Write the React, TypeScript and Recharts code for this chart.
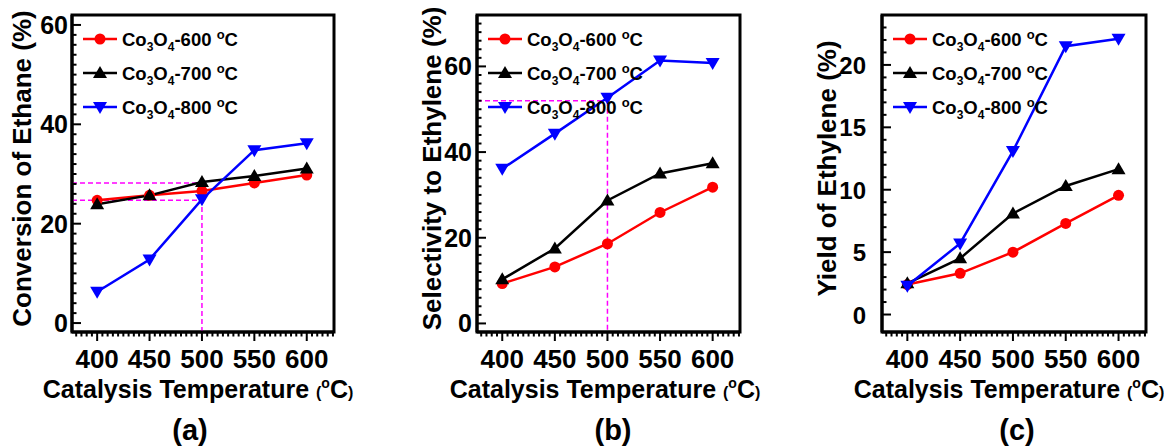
import { LineChart, Line, XAxis, YAxis, ReferenceLine, ReferenceArea, Legend, Label } from "recharts";

const FONT = "Arial, 'Liberation Sans', Helvetica, sans-serif";

// catalysis temperatures (x) and calcination temperatures of the samples
const temps = [400, 450, 500, 550, 600];
const samples = ["600", "700", "800"];
const colors = ["#ff0000", "#000000", "#0000ff"];
const shapes = ["circle", "up", "down"];

// (a) conversion of ethane, %
const conv600 = [24.7, 25.7, 26.6, 28.2, 29.8];
const conv700 = [23.9, 25.7, 28.4, 29.6, 31.1];
const conv800 = [6.3, 12.8, 24.9, 34.8, 36.2];

// (b) selectivity to ethylene, %
const sel600 = [9.3, 13.2, 18.6, 25.9, 31.8];
const sel700 = [10.3, 17.5, 28.7, 35.0, 37.4];
const sel800 = [36.1, 44.3, 52.7, 61.4, 60.8];

// (c) yield of ethylene, %
const yld600 = [2.4, 3.3, 5.0, 7.3, 9.55];
const yld700 = [2.5, 4.5, 8.1, 10.3, 11.65];
const yld800 = [2.3, 5.7, 13.1, 21.5, 22.1];

// magenta guide lines at 500 °C
const guideTemp = 500;
const guideA = [28.2, 24.7];
const guideB = [52.0];

const xMajor = [400, 450, 500, 550, 600];
const xDomain = [376, 626];

const range = (a: number, b: number, s: number) => {
  const out: number[] = [];
  for (let v = a; v <= b + 1e-9; v += s) out.push(Math.round(v * 100) / 100);
  return out;
};

const rows = (vals: number[][]) =>
  temps.map((t, i) => ({ t, s600: vals[0][i], s700: vals[1][i], s800: vals[2][i] }));

const panels = [
  {
    tag: "(a)", left: 0, width: 390, plotLeft: 72, plotRight: 334,
    yDomain: [-1.8, 62], yMajorStep: 20, yTicks: range(0, 60, 2),
    title: "Conversion of Ethane (%)", titleX: 22, xTitleX: 198, tagX: 190,
    tickGap: 4, tickFont: 25, data: rows([conv600, conv700, conv800]), guides: guideA,
  },
  {
    tag: "(b)", left: 390, width: 386, plotLeft: 87, plotRight: 350,
    yDomain: [-2, 72], yMajorStep: 20, yTicks: range(0, 70, 2),
    title: "Selectivity to Ethylene (%)", titleX: 42, xTitleX: 215, tagX: 223,
    tickGap: 5, tickFont: 25, data: rows([sel600, sel700, sel800]), guides: guideB,
  },
  {
    tag: "(c)", left: 776, width: 388, plotLeft: 106, plotRight: 370,
    yDomain: [-1.4, 24], yMajorStep: 5, yTicks: range(0, 23, 1),
    title: "Yield of Ethylene (%)", titleX: 51, xTitleX: 233, tagX: 241,
    tickGap: 16, tickFont: 24, data: rows([yld600, yld700, yld800]), guides: [] as number[],
  },
];

const H = 447;
const TOP = 15;
const BOTTOM = 332;
const YW = 40;
const XH = 30;

function Marker({ shape, cx, cy, color }: { shape: string; cx: number; cy: number; color: string }) {
  if (shape === "circle") return <circle cx={cx} cy={cy} r={5.5} fill={color} />;
  if (shape === "up")
    return <polygon points={`${cx},${cy - 7} ${cx - 7},${cy + 5} ${cx + 7},${cy + 5}`} fill={color} />;
  return <polygon points={`${cx - 7},${cy - 5} ${cx + 7},${cy - 5} ${cx},${cy + 7}`} fill={color} />;
}

function LegendBox() {
  return (
    <svg width={210} height={100} style={{ overflow: "visible" }}>
      {samples.map((s, i) => {
        const cy = 14 + i * 34;
        return (
          <g key={s}>
            <line x1={3} x2={37} y1={cy} y2={cy} stroke={colors[i]} strokeWidth={2.5} />
            <Marker shape={shapes[i]} cx={20} cy={cy} color={colors[i]} />
            <text x={42} y={cy + 6.5} fontSize={18.5} fontWeight="bold" fontFamily={FONT} fill="#000">
              Co<tspan fontSize={12} dy={5}>3</tspan>
              <tspan dy={-5}>O</tspan>
              <tspan fontSize={12} dy={5}>4</tspan>
              <tspan dy={-5}>-{s} </tspan>
              <tspan fontSize={13} dy={-7}>o</tspan>
              <tspan dy={7}>C</tspan>
            </text>
          </g>
        );
      })}
    </svg>
  );
}

function XTick(props: any) {
  const { x, y, payload } = props;
  const major = xMajor.includes(payload.value);
  return (
    <g>
      <line x1={x} x2={x} y1={y} y2={y + (major ? 9 : 4.5)} stroke="#000" strokeWidth={2} />
      {major && (
        <text x={x} y={y + 36} textAnchor="middle" fontSize={26} fontWeight="bold" fontFamily={FONT} fill="#000">
          {payload.value}
        </text>
      )}
    </g>
  );
}

function makeYTick(step: number, gap: number, font: number) {
  return (props: any) => {
    const { x, y, payload } = props;
    const major = payload.value % step === 0;
    return (
      <g>
        <line x1={x} x2={x + (major ? 9 : 4.5)} y1={y} y2={y} stroke="#000" strokeWidth={2} />
        {major && (
          <text x={x - gap} y={y + 9} textAnchor="end" fontSize={font} fontWeight="bold" fontFamily={FONT} fill="#000">
            {payload.value}
          </text>
        )}
      </g>
    );
  };
}

function Panel({ p }: { p: (typeof panels)[number] }) {
  const [ymin, ymax] = p.yDomain;
  const cy = (TOP + BOTTOM) / 2 - 5;
  const dash = { stroke: "#ff00ff", strokeDasharray: "5 3", strokeWidth: 1.5 };
  return (
    <div style={{ position: "absolute", left: p.left, top: 0, width: p.width, height: H }}>
      <LineChart
        width={p.width}
        height={H}
        data={p.data}
        margin={{ top: TOP, right: p.width - p.plotRight, bottom: H - BOTTOM - XH, left: p.plotLeft - YW }}
      >
        <XAxis
          type="number"
          dataKey="t"
          domain={xDomain}
          ticks={range(380, 625, 5)}
          interval={0}
          allowDataOverflow
          height={XH}
          tickSize={0}
          tickMargin={0}
          tickLine={false}
          tick={XTick}
          axisLine={{ stroke: "#000", strokeWidth: 3 }}
        >
          <Label
            content={() => (
              <g fontFamily={FONT} fontWeight="bold" fill="#000">
                <text x={p.xTitleX} y={398} textAnchor="middle" fontSize={25}>
                  Catalysis Temperature <tspan fontSize={16}>(</tspan>
                  <tspan fontSize={14} dy={-10}>o</tspan>
                  <tspan dy={10}>C</tspan>
                  <tspan fontSize={16}>)</tspan>
                </text>
                <text x={p.tagX} y={440} textAnchor="middle" fontSize={29}>
                  {p.tag}
                </text>
              </g>
            )}
          />
        </XAxis>
        <YAxis
          type="number"
          domain={p.yDomain}
          ticks={p.yTicks}
          interval={0}
          allowDataOverflow
          width={YW}
          tickSize={0}
          tickMargin={0}
          tickLine={false}
          tick={makeYTick(p.yMajorStep, p.tickGap, p.tickFont)}
          axisLine={{ stroke: "#000", strokeWidth: 3 }}
        >
          <Label
            content={() => (
              <text
                x={p.titleX}
                y={cy + 9}
                transform={`rotate(-90 ${p.titleX} ${cy})`}
                textAnchor="middle"
                fontSize={26}
                fontWeight="bold"
                fontFamily={FONT}
                fill="#000"
              >
                {p.title}
              </text>
            )}
          />
        </YAxis>
        <ReferenceArea x1={xDomain[0]} x2={xDomain[1]} y1={ymin} y2={ymax} fill="none" stroke="#000" strokeWidth={3} />
        {p.guides.map((g) => (
          <ReferenceLine key={`h${g}`} segment={[{ x: xDomain[0], y: g }, { x: guideTemp, y: g }]} {...dash} />
        ))}
        {p.guides.length > 0 && (
          <ReferenceLine segment={[{ x: guideTemp, y: Math.max(...p.guides) }, { x: guideTemp, y: ymin }]} {...dash} />
        )}
        {samples.map((s, i) => (
          <Line
            key={s}
            type="linear"
            dataKey={`s${s}`}
            stroke={colors[i]}
            strokeWidth={2.5}
            isAnimationActive={false}
            activeDot={false}
            dot={(d: any) => <Marker key={`${s}-${d.index}`} shape={shapes[i]} cx={d.cx} cy={d.cy} color={colors[i]} />}
          />
        ))}
        <Legend
          layout="vertical"
          align="center"
          verticalAlign="middle"
          content={LegendBox}
          wrapperStyle={{ left: p.plotLeft + 8, top: 25, width: 210, height: 100 }}
        />
      </LineChart>
    </div>
  );
}

export default function App() {
  return (
    <div style={{ position: "absolute", left: 0, top: 0, width: 1164, height: H, background: "#fff" }}>
      {panels.map((p) => (
        <Panel key={p.tag} p={p} />
      ))}
    </div>
  );
}
